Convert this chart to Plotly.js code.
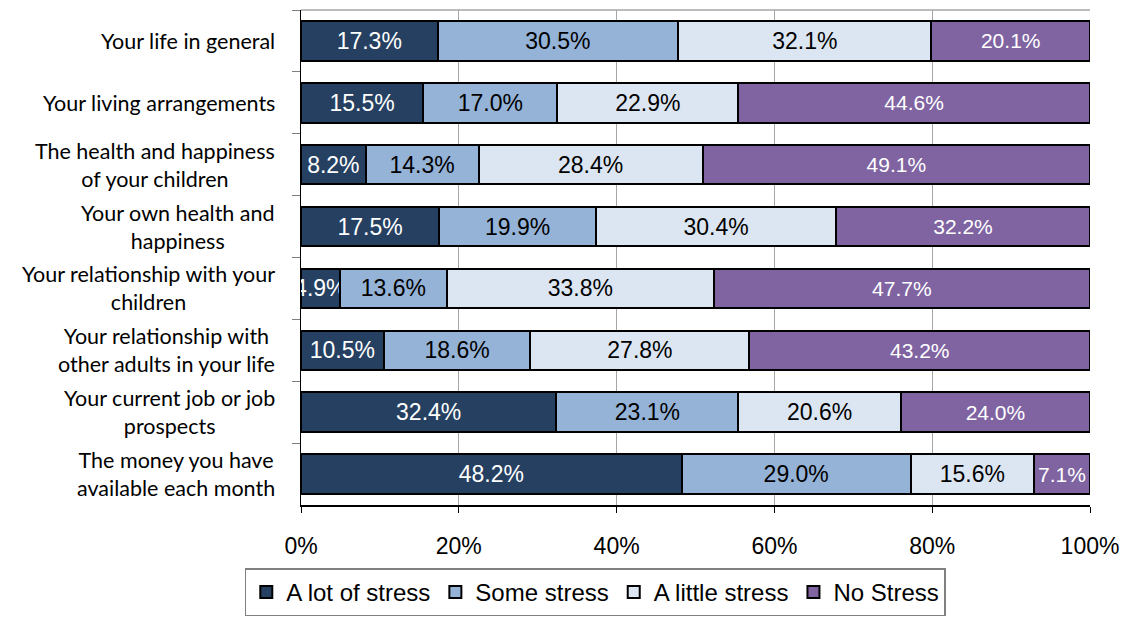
<!DOCTYPE html>
<html><head><meta charset="utf-8">
<script src="https://cdn.plot.ly/plotly-3.0.1.min.js"></script>
<style>html,body{margin:0;padding:0;background:#fff}#chart{width:1124px;height:626px}</style>
</head><body><div id="chart"></div>
<script>
const categories = [
  "Your life in general",
  "Your living arrangements",
  "The health and happiness<br>of your children",
  "Your own health and<br>happiness",
  "Your relationship with your<br>children",
  "Your relationship with<br>other adults in your life",
  "Your current job or job<br>prospects",
  "The money you have<br>available each month"
];
const seriesNames = ["A lot of stress", "Some stress", "A little stress", "No Stress"];
const aLotOfStress = [17.3, 15.5, 8.2, 17.5, 4.9, 10.5, 32.4, 48.2];
const someStress   = [30.5, 17.0, 14.3, 19.9, 13.6, 18.6, 23.1, 29.0];
const aLittleStress= [32.1, 22.9, 28.4, 30.4, 33.8, 27.8, 20.6, 15.6];
const noStress     = [20.1, 44.6, 49.1, 32.2, 47.7, 43.2, 24.0, 7.1];
const xTicks = [0, 20, 40, 60, 80, 100];

const seriesValues = [aLotOfStress, someStress, aLittleStress, noStress];
const colors = ["#254061", "#95B3D7", "#DCE6F2", "#8064A2"];
const textColors = ["#ffffff", "#000000", "#000000", "#ffffff"];
const textSizes = [23, 23, 23, 21];

const traces = seriesValues.map((vals, i) => ({
  type: "bar",
  orientation: "h",
  name: seriesNames[i],
  y: categories,
  x: vals,
  text: vals.map(v => v.toFixed(1) + "%"),
  textposition: "inside",
  insidetextanchor: "middle",
  constraintext: "none",
  textangle: 0,
  textfont: {family: "Liberation Sans, Arial, sans-serif", size: textSizes[i], color: textColors[i]},
  marker: {color: colors[i], line: {color: "#000000", width: 2}},
  hoverinfo: "skip"
}));

const annotations = categories.map(c => ({
  x: 0, xref: "paper", xshift: -24,
  y: c, yref: "y",
  text: c, showarrow: false,
  xanchor: "right", yanchor: "middle", align: "center",
  font: {family: "Lato, Open Sans, sans-serif", size: 21.5, color: "#000"}
}));

const layout = {
  width: 1124, height: 626,
  margin: {l: 301, r: 34, t: 10, b: 117},
  barmode: "stack",
  barnorm: "percent",
  bargap: 0.36,
  paper_bgcolor: "#fff", plot_bgcolor: "#fff",
  font: {family: "Liberation Sans, Arial, sans-serif", size: 22, color: "#000"},
  xaxis: {
    range: [0, 100], tickvals: xTicks, ticktext: xTicks.map(v => v + "%"),
    showgrid: true, gridcolor: "#A6A6A6", gridwidth: 1,
    showline: true, linecolor: "#000", linewidth: 1.5,
    ticks: "outside", ticklen: 6, tickcolor: "#000",
    ticklabelstandoff: 14, zeroline: false,
    tickfont: {size: 23}
  },
  yaxis: {
    autorange: "reversed", showticklabels: false,
    showline: true, linecolor: "#000", linewidth: 1,
    ticks: "outside", tickson: "boundaries", ticklen: 8, tickcolor: "#808080",
    showgrid: false
  },
  shapes: [{type: "line", xref: "paper", yref: "paper", x0: 0, x1: 1, y0: 1, y1: 1,
            line: {color: "#A6A6A6", width: 1.5}}],
  annotations: annotations,
  showlegend: true,
  legend: {
    orientation: "h", x: 0.373, xanchor: "center", y: -0.128, yanchor: "top",
    bordercolor: "#808080", borderwidth: 1.5,
    font: {size: 24}, traceorder: "normal", itemwidth: 30
  }
};

Plotly.newPlot("chart", traces, layout, {displayModeBar: false, staticPlot: true});
</script></body></html>
